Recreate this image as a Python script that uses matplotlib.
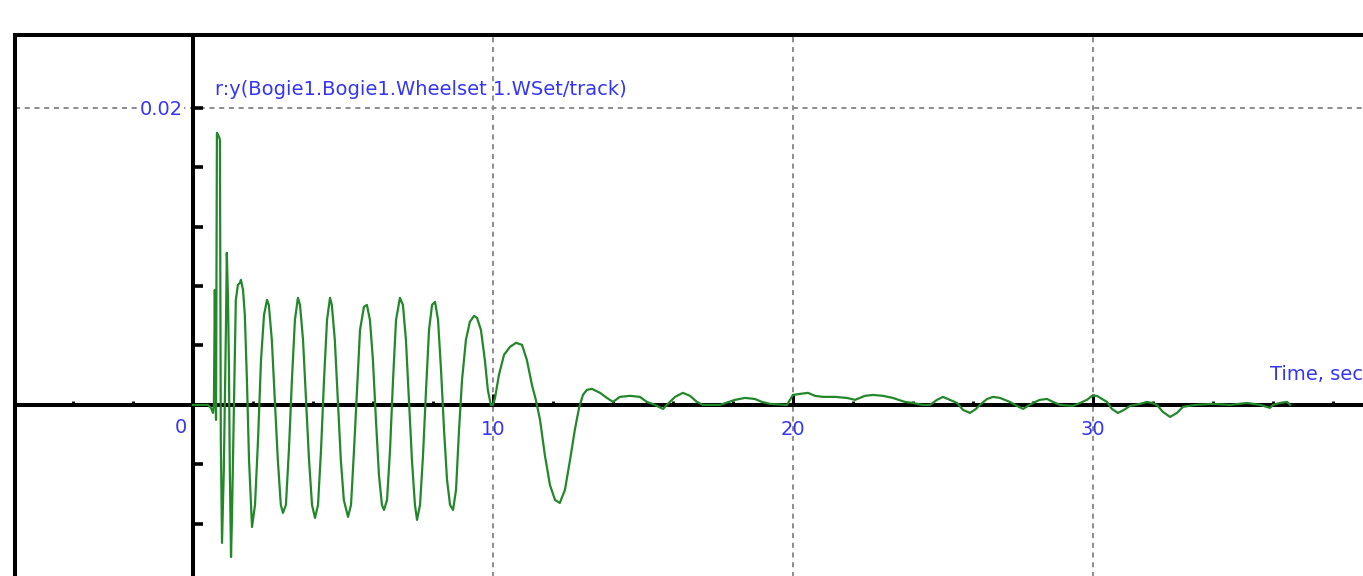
import matplotlib
matplotlib.use("Agg")
import matplotlib.pyplot as plt
import numpy as np
from matplotlib.ticker import FixedLocator, MultipleLocator, NullFormatter

# wheelset lateral displacement vs time
time_s = [
    0, 0.5, 0.6, 0.67, 0.70, 0.73, 0.77, 0.80, 0.87, 0.90, 0.93, 0.97, 1.03, 1.10, 1.13,
    1.17, 1.20, 1.23, 1.27, 1.30, 1.37, 1.43, 1.50, 1.57, 1.60, 1.67, 1.73, 1.80, 1.87,
    1.97, 2.07, 2.17, 2.27, 2.37, 2.47, 2.53, 2.63, 2.73, 2.83, 2.93, 3.00, 3.10, 3.20,
    3.30, 3.40, 3.50, 3.57, 3.67, 3.77, 3.87, 3.97, 4.07, 4.17, 4.27, 4.37, 4.47, 4.57,
    4.63, 4.73, 4.83, 4.93, 5.03, 5.17, 5.27, 5.37, 5.47, 5.57, 5.70, 5.80, 5.90, 6.00,
    6.10, 6.20, 6.30, 6.37, 6.47, 6.57, 6.67, 6.77, 6.90, 7.00, 7.10, 7.20, 7.30, 7.40,
    7.47, 7.57, 7.67, 7.77, 7.87, 7.97, 8.07, 8.17, 8.27, 8.37, 8.47, 8.57, 8.67, 8.77,
    8.87, 8.97, 9.10, 9.23, 9.37, 9.47, 9.60, 9.73, 9.83, 9.93, 10.00, 10.07, 10.20,
    10.37, 10.57, 10.77, 10.97, 11.13, 11.30, 11.43, 11.57, 11.73, 11.90, 12.07, 12.23,
    12.40, 12.57, 12.73, 12.87, 13.00, 13.13, 13.30, 13.57, 13.80, 14.00, 14.23, 14.57,
    14.90, 15.13, 15.40, 15.67, 15.83, 16.07, 16.33, 16.57, 16.80, 17.00, 17.57, 18.07,
    18.40, 18.73, 18.97, 19.23, 19.80, 20.00, 20.23, 20.50, 20.73, 21.00, 21.40, 21.80,
    22.07, 22.40, 22.67, 23.00, 23.33, 23.73, 24.00, 24.30, 24.57, 24.80, 25.00, 25.23,
    25.47, 25.67, 25.90, 26.10, 26.23, 26.47, 26.67, 26.90, 27.23, 27.47, 27.67, 27.83,
    28.00, 28.23, 28.47, 28.67, 28.90, 29.33, 29.57, 29.80, 29.97, 30.13, 30.30, 30.47,
    30.63, 30.83, 31.03, 31.23, 31.57, 31.80, 31.97, 32.13, 32.33, 32.57, 32.80, 33.00,
    33.40, 34.00, 34.57, 35.13, 35.57, 35.90, 36.00, 36.23, 36.47, 36.57,
]
disp_mm = [
    0, 0, -0.20, -0.54, 0, 7.74, -1.01, 18.32, 18.05, 17.85, -2.36, -9.29, -4.38, 5.05, 10.24,
    7.07, 2.69, -4.38, -10.24, -7.74, 0.34, 7.07, 8.08, 8.22, 8.42, 7.74, 6.06, 1.68, -3.70,
    -8.22, -6.73, -2.36, 3.03, 6.06, 7.07, 6.73, 4.38, 0.34, -3.70, -6.73, -7.27, -6.73, -3.03,
    1.68, 5.72, 7.21, 6.73, 4.38, 0.34, -3.70, -6.73, -7.61, -6.73, -3.03, 1.68, 5.72, 7.21,
    6.73, 4.38, 0.34, -3.70, -6.40, -7.54, -6.73, -3.03, 1.01, 5.05, 6.60, 6.73, 5.72, 3.03,
    -1.01, -4.71, -6.73, -7.07, -6.40, -3.03, 1.68, 5.72, 7.21, 6.73, 4.38, 0.34, -3.70, -6.73,
    -7.74, -6.73, -3.37, 1.01, 5.05, 6.73, 6.94, 5.72, 2.36, -1.68, -5.05, -6.73, -7.07, -5.72,
    -1.68, 1.68, 4.38, 5.59, 5.99, 5.86, 5.05, 3.03, 1.01, 0, 0, 0.47, 2.02,
    3.37, 3.91, 4.18, 4.04, 3.03, 1.35, 0.34, -1.01, -3.37, -5.39, -6.40, -6.60,
    -5.72, -3.70, -1.68, -0.20, 0.67, 1.01, 1.08, 0.81, 0.47, 0.20, 0.54, 0.61,
    0.54, 0.20, 0, -0.27, 0.07, 0.54, 0.81, 0.61, 0.20, 0, 0, 0.34,
    0.47, 0.40, 0.20, 0.07, 0, 0.67, 0.74, 0.81, 0.61, 0.54, 0.54, 0.47,
    0.34, 0.61, 0.67, 0.61, 0.47, 0.20, 0.13, 0, 0, 0.34, 0.54, 0.34,
    0.13, -0.34, -0.54, -0.27, 0, 0.40, 0.54, 0.47, 0.20, -0.07, -0.27, -0.07,
    0.13, 0.34, 0.40, 0.20, 0, -0.07, 0.13, 0.34, 0.61, 0.61, 0.40, 0.20,
    -0.27, -0.54, -0.34, -0.07, 0.07, 0.20, 0.13, 0, -0.47, -0.81, -0.54, -0.13,
    0, 0.07, 0, 0.13, 0, -0.20, 0, 0.13, 0.20, 0,
]
x_major = [10, 20, 30]
y_major = [0.02]
y_minor = [-0.008, -0.004, 0.004, 0.008, 0.012, 0.016]
series_name = "r:y(Bogie1.Bogie1.Wheelset 1.WSet/track)"

BLUE = "#3535f5"
GREEN = "#23882a"
GRID = "#8c8c8c"
FS = 14

plt.rcParams["font.family"] = ["DejaVu Sans"]

fig = plt.figure(figsize=(13.63, 5.76), dpi=100)
ax = fig.add_axes([15 / 1363, 1 - 590 / 576, 1360 / 1363, 555 / 576])
ax.set_xlim(-5.93, 39.4)
ax.set_ylim(-0.01246, 0.0249)

# axes crossing at the origin, frame on top and left
ax.spines["left"].set_position(("data", 0))
ax.spines["bottom"].set_position(("data", 0))
ax.spines["right"].set_position(("axes", 0))
for s in ax.spines.values():
    s.set_linewidth(2.9)
    s.set_color("black")
ax.yaxis.set_ticks_position("left")
ax.xaxis.set_ticks_position("bottom")

ax.xaxis.set_major_locator(FixedLocator(x_major))
ax.xaxis.set_minor_locator(MultipleLocator(2))
ax.yaxis.set_major_locator(FixedLocator(y_major))
ax.yaxis.set_minor_locator(FixedLocator(y_minor))
ax.xaxis.set_minor_formatter(NullFormatter())
ax.yaxis.set_minor_formatter(NullFormatter())
ax.set_yticklabels(["0.02"])

ax.tick_params(axis="x", which="major", direction="in", length=8, width=2.2,
               pad=11, labelsize=FS, labelcolor=BLUE)
ax.tick_params(axis="x", which="minor", direction="in", length=3, width=2)
ax.tick_params(axis="y", which="both", direction="in", length=7, width=2.6,
               pad=7, labelsize=FS, labelcolor=BLUE)
for lab in ax.get_yticklabels():
    lab.set_bbox(dict(facecolor="white", edgecolor="none", pad=0.5))

ax.grid(which="major", color=GRID, linestyle=(0, (2.6, 2.4)), linewidth=1.4)

ax.plot(time_s, np.array(disp_mm) * 1e-3, color=GREEN, linewidth=1.6, zorder=3)

ax.text(0.73, 0.0212, series_name, color=BLUE, fontsize=FS, ha="left", va="center")
ax.text(35.9, 0.00202, "Time, sec", color=BLUE, fontsize=FS, ha="left", va="center")
ax.annotate("0", xy=(0, 0), xytext=(-4.5, -16.5), textcoords="offset points",
            color=BLUE, fontsize=FS, ha="right", va="center")

fig.savefig("out.png", dpi=100)
plt.close(fig)
